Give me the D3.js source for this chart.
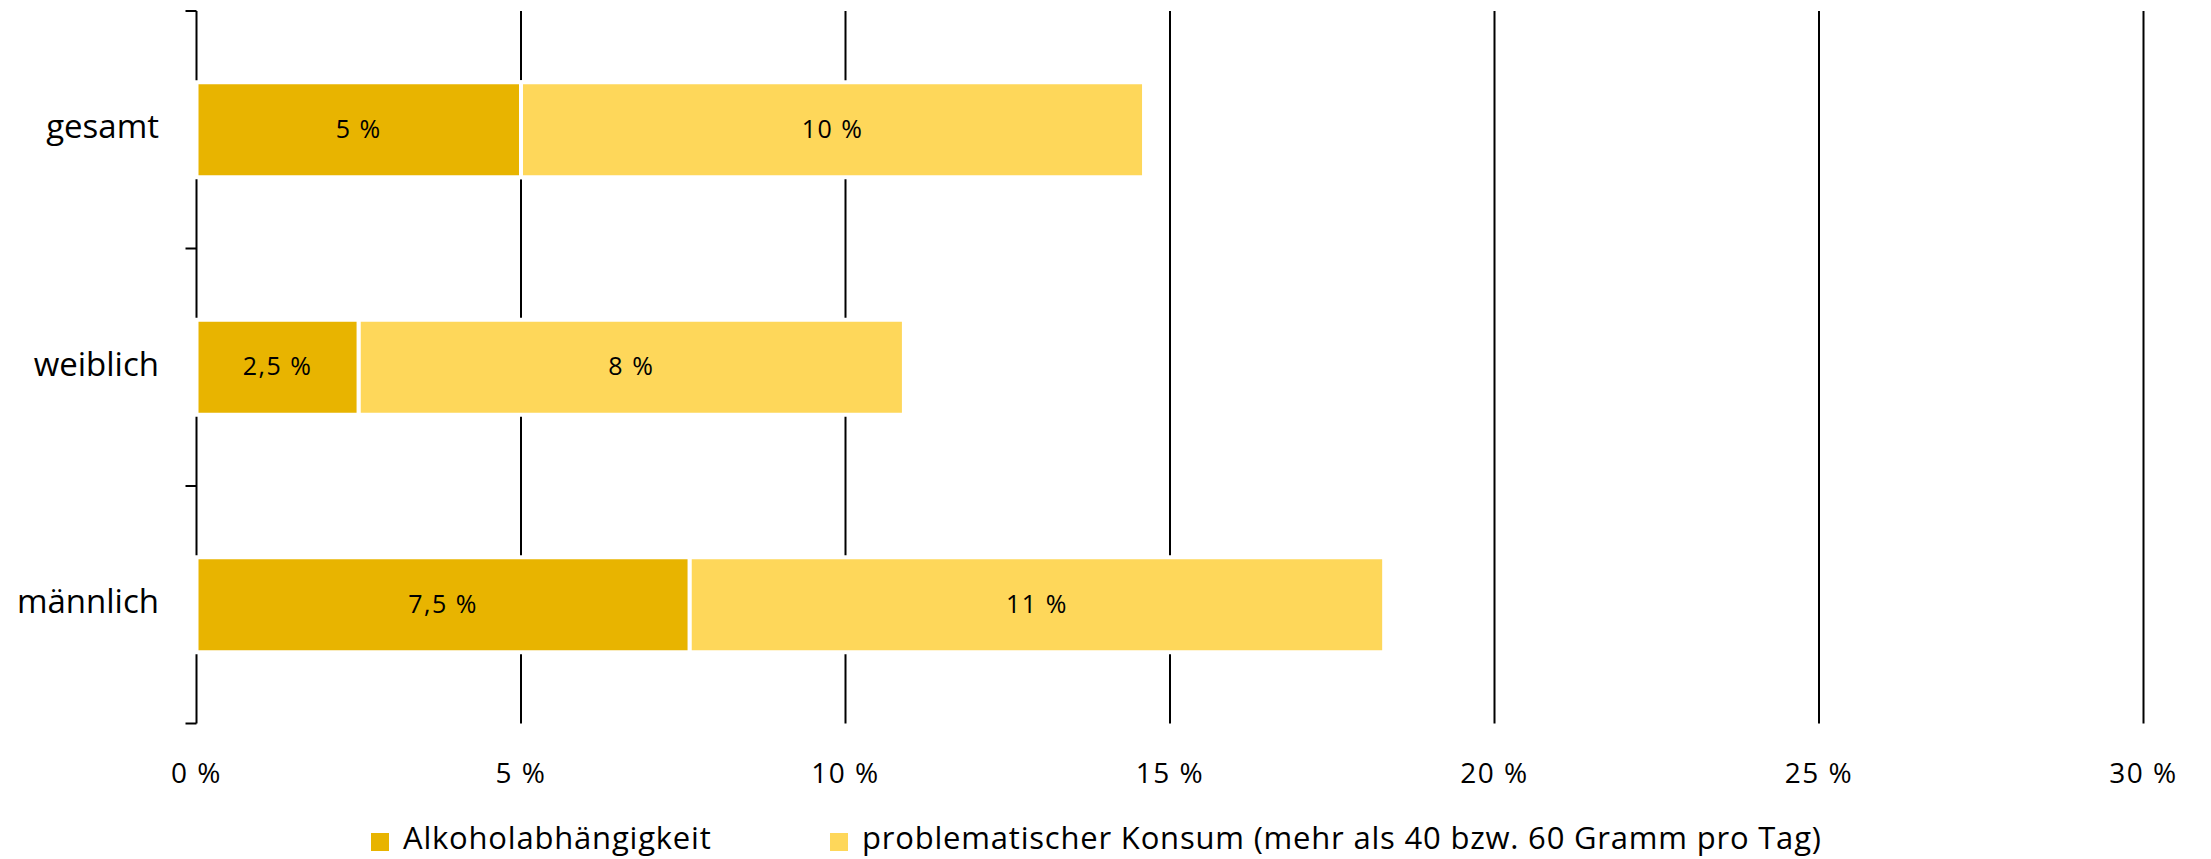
<!DOCTYPE html>
<html>
<head>
<meta charset="utf-8">
<script src="https://cdn.jsdelivr.net/npm/d3@7"></script>
<style>
  html, body { margin: 0; padding: 0; background: #fff; }
  svg { display: block; }
  text { font-family: "Open Sans", "Noto Sans", sans-serif; fill: #000; }
</style>
</head>
<body>
<svg id="chart" width="2211" height="859"></svg>
<script>
// ---- data ----
const categories = ["gesamt", "weiblich", "männlich"];
const seriesNames = ["Alkoholabhängigkeit", "problematischer Konsum (mehr als 40 bzw. 60 Gramm pro Tag)"];
const dependence = [5.0, 2.5, 7.6];
const problematic = [9.6, 8.4, 10.7];
const dependenceLabels = ["5 %", "2,5 %", "7,5 %"];
const problematicLabels = ["10 %", "8 %", "11 %"];
const xTicks = [0, 5, 10, 15, 20, 25, 30];
const xTickLabels = ["0 %", "5 %", "10 %", "15 %", "20 %", "25 %", "30 %"];
const colors = ["#E8B400", "#FED75A"];

// ---- layout ----
const svg = d3.select("#chart");
const x = d3.scaleLinear().domain([0, 30]).range([196.5, 2143.5]);
const y = d3.scaleBand().domain(categories).range([11, 723.5])
  .paddingInner(0.6).paddingOuter(0.3);

// gridlines
svg.append("g").selectAll("line")
  .data(xTicks.filter(d => d > 0))
  .join("line")
  .attr("x1", d => x(d)).attr("x2", d => x(d))
  .attr("y1", y.range()[0]).attr("y2", y.range()[1])
  .attr("stroke", "#000").attr("stroke-width", 2);

// y axis line + ticks at band boundaries
const yAxis = svg.append("g");
yAxis.append("line")
  .attr("x1", x(0)).attr("x2", x(0))
  .attr("y1", y.range()[0]).attr("y2", y.range()[1])
  .attr("stroke", "#000").attr("stroke-width", 2);
const boundaries = d3.range(categories.length + 1).map(i => y.range()[0] + i * y.step());
yAxis.selectAll("line.tick")
  .data(boundaries)
  .join("line")
  .attr("class", "tick")
  .attr("x1", x(0) - 11).attr("x2", x(0))
  .attr("y1", d => d).attr("y2", d => d)
  .attr("stroke", "#000").attr("stroke-width", 2);

// category labels
svg.append("g").selectAll("text")
  .data(categories)
  .join("text")
  .attr("x", 159)
  .attr("y", d => y(d) + y.bandwidth() / 2 - 3)
  .attr("dy", "0.35em")
  .attr("text-anchor", "end")
  .attr("font-size", 33)
  .text(d => d);

// stacked bars
const rows = categories.map((c, i) => ({
  cat: c,
  segs: [
    { s: 0, x0: 0, x1: dependence[i], label: dependenceLabels[i] },
    { s: 1, x0: dependence[i], x1: dependence[i] + problematic[i], label: problematicLabels[i] }
  ]
}));
const segs = rows.flatMap(r => r.segs.map(s => ({ ...s, cat: r.cat })));

svg.append("g").selectAll("rect")
  .data(segs)
  .join("rect")
  .attr("x", d => x(d.x0))
  .attr("y", d => y(d.cat))
  .attr("width", d => x(d.x1) - x(d.x0))
  .attr("height", y.bandwidth())
  .attr("fill", d => colors[d.s])
  .attr("stroke", "#fff")
  .attr("stroke-width", 4);

svg.append("g").selectAll("text")
  .data(segs)
  .join("text")
  .attr("x", d => (x(d.x0) + x(d.x1)) / 2)
  .attr("y", d => y(d.cat) + y.bandwidth() / 2 - 1)
  .attr("dy", "0.35em")
  .attr("text-anchor", "middle")
  .attr("font-size", 25)
  .attr("letter-spacing", 1.5)
  .text(d => d.label);

// x tick labels
svg.append("g").selectAll("text")
  .data(xTicks)
  .join("text")
  .attr("x", d => x(d))
  .attr("y", 773)
  .attr("dy", "0.35em")
  .attr("text-anchor", "middle")
  .attr("font-size", 28)
  .attr("letter-spacing", 1.5)
  .text((d, i) => xTickLabels[i]);

// legend
const legendX = [371, 830];
const lg = svg.append("g").selectAll("g")
  .data(seriesNames)
  .join("g")
  .attr("transform", (d, i) => `translate(${legendX[i]},0)`);
lg.append("rect")
  .attr("x", 0).attr("y", 833)
  .attr("width", 18).attr("height", 18)
  .attr("fill", (d, i) => colors[i]);
lg.append("text")
  .attr("x", 32).attr("y", 849)
  .attr("font-size", 31)
  .attr("letter-spacing", 0.8)
  .text(d => d);
</script>
</body>
</html>
